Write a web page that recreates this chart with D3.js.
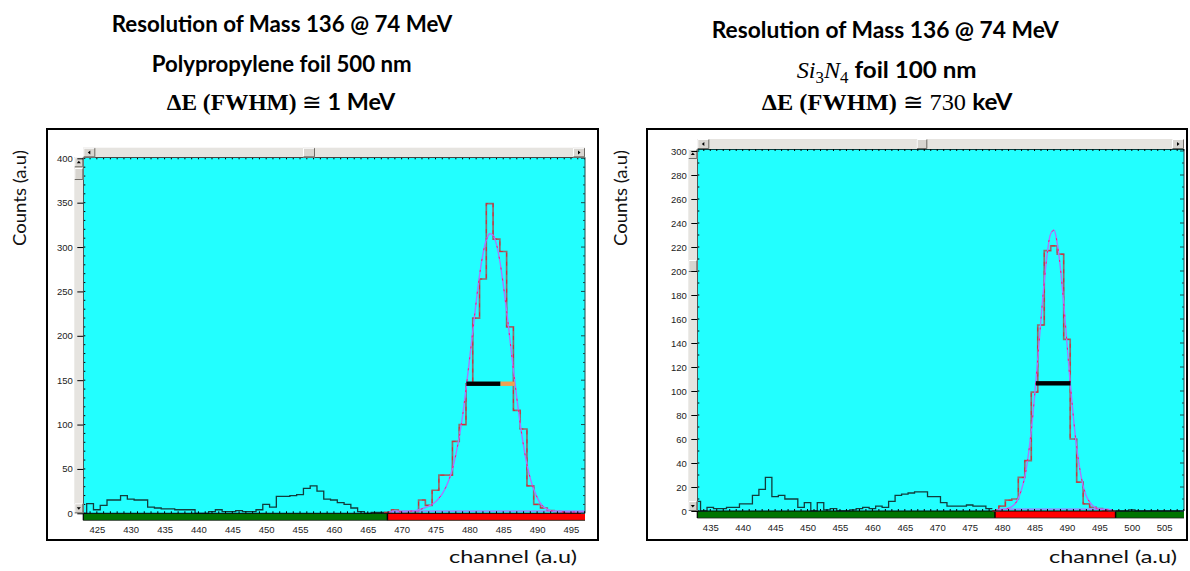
<!DOCTYPE html>
<html><head><meta charset="utf-8">
<script src="https://cdn.jsdelivr.net/npm/d3@7"></script>
<style>body{margin:0;background:#fff}svg{display:block}</style>
</head><body>
<svg id="chart" width="1190" height="571"></svg>
<script>
// ================= DATA =================
// Left panel: Polypropylene foil 500 nm
const leftXTicks = [425,430,435,440,445,450,455,460,465,470,475,480,485,490,495];
const leftYTicks = [0,50,100,150,200,250,300,350,400];
const leftBgStart = 423;
const leftBgCounts = [0,11,4,9,15,15,20,16,15,15,7,6,5,5,4,4,4,0,0,2,4,2,2,3,2,2,4,10,7,19,19,20,21,28,31,25,16,15,12,10,6,2,0,1,1];
const leftPeakStart = 468;
const leftPeakCounts = [1,4,2,2,2,15,9,26,43,43,81,100,146,220,264,349,309,295,210,116,95,31,10,6,3,2,1,1,1,0];
const leftFitCh  = [468,469,470,471,472,472.5,473,473.5,474,474.5,475,475.5,476,476.5,477,477.5,478,478.5,479,479.5,480,480.5,481,481.5,482,482.5,483,483.5,484,484.5,485,485.5,486,486.5,487,487.5,488,488.5,489,489.5,490,490.5,491,491.5,492,493,494,495,497];
const leftFitVal = [1.5,1.6,1.8,2.2,3,4,5,6.5,8,10,13,17,22,29,38,50,66,86,110,140,172,205,238,268,292,308,315,313,303,284,258,228,195,162,130,101,76,55,39,27,18,11,7,4.5,3,2,1.6,1.5,1.5];
const leftFitBase = [[468.5,2.5],[497,2.5]];
const leftFwhmBlack = [479.55,484.6];
const leftFwhmOrange = [484.6,486.7];
const leftFwhmLevel = 146;
const leftRegion = [467.9,497.1];

// Right panel: Si3N4 foil 100 nm
const rightXTicks = [435,440,445,450,455,460,465,470,475,480,485,490,495,500,505];
const rightYTicks = [0,20,40,60,80,100,120,140,160,180,200,220,240,260,280,300];
const rightBgStart = 433;
const rightBgCounts = [8,0,3,2,2,3,3,6,6,13,18,28,12,13,10,10,3,7,0,7,1,2,0,0,1,2,3,2,4,3,8,13,14,15,16,16,12,12,7,4,4,4,5,4,4,2];
const rightPeakStart = 479;
const rightPeakCounts = [0,4,9,10,28,42,99,155,217,221,214,143,60,24,6,3,2,1,0];
const rightTailStart = 498;
const rightTailCounts = [0,0,1,0,0,0,0,0,0,0,0];
const rightFitCh  = [479,480,481,481.5,482,482.5,483,483.5,484,484.5,485,485.5,486,486.5,487,487.5,488,488.5,489,489.5,490,490.5,491,491.5,492,492.5,493,493.5,494,494.5,495,496,497];
const rightFitVal = [1,1,2.3,3.6,6,10.5,18,28.5,45,67,95,127,160,191,216,231,234,223,202,173,140,107,78,53,34.5,21,12.3,7.5,4.3,2.5,1.6,1.1,1];
const rightFitBase = [[479.5,1.5],[496.5,1.5]];
const rightFwhmBlack = [485.2,490.55];
const rightFwhmLevel = 106.4;
const rightRegion = [478.9,497.5];

// ================= LAYOUT / STYLE =================
const svg = d3.select("#chart");
const SANS = "Lato, 'Open Sans', sans-serif";
const SERIF = "'Liberation Serif', 'DejaVu Serif', serif";
const TICKF = "'Liberation Sans', Arial, sans-serif";
const CYAN = "#22ffff", GREEN = "#007400", RED = "#ff0000";

const panels = [
  { id:"L", frame:[47,129,598,540], plot:{l:83.3,r:585,top:157.3,zero:513.3},
    xDomain:[423,497.07], yLab:[400,158.3], xTicks:leftXTicks, yTicks:leftYTicks, yMinor:10,
    labY:530, vs:{x:74.3, thumb:[168,180]}, hs:{h:9.6, thumb:[303,315]},
    series:[{start:leftBgStart,counts:leftBgCounts,kind:"bg"},{start:leftPeakStart,counts:leftPeakCounts,kind:"peak"}],
    fitCh:leftFitCh, fitVal:leftFitVal, fitBase:leftFitBase,
    bars:[{r:leftFwhmBlack,c:"#000"},{r:leftFwhmOrange,c:"#f0a050"}], level:leftFwhmLevel,
    region:leftRegion },
  { id:"R", frame:[647,129,1187,540], plot:{l:697.3,r:1184,top:149,zero:511},
    xDomain:[433,508.05], yLab:[300,151], xTicks:rightXTicks, yTicks:rightYTicks, yMinor:10,
    labY:528.3, vs:{x:688.3, thumb:[260,272]}, hs:{h:10, thumb:[916.7,927.3]},
    series:[{start:rightBgStart,counts:rightBgCounts,kind:"bg"},{start:rightPeakStart,counts:rightPeakCounts,kind:"peak"},{start:rightTailStart,counts:rightTailCounts,kind:"bg"}],
    fitCh:rightFitCh, fitVal:rightFitVal, fitBase:rightFitBase,
    bars:[{r:rightFwhmBlack,c:"#000"}], level:rightFwhmLevel,
    region:rightRegion }
];

function button(g, x, y, w, h){
  g.append("rect").attr("x",x).attr("y",y).attr("width",w).attr("height",h).attr("fill","#d8d5d0");
  g.append("path").attr("d",`M${x+0.5},${y+h-0.5}V${y+0.5}H${x+w-0.5}`).attr("stroke","#fff").attr("fill","none");
  g.append("path").attr("d",`M${x+0.5},${y+h-0.5}H${x+w-0.5}V${y+0.5}`).attr("stroke","#6e6b66").attr("fill","none");
}
function tri(g, cx, cy, dir){
  const s=2;
  let d;
  if(dir==="up") d=`M${cx-s},${cy+1}L${cx+s},${cy+1}L${cx},${cy-1.5}Z`;
  if(dir==="down") d=`M${cx-s},${cy-1}L${cx+s},${cy-1}L${cx},${cy+1.5}Z`;
  if(dir==="left") d=`M${cx+1},${cy-s}L${cx+1},${cy+s}L${cx-1.5},${cy}Z`;
  if(dir==="right") d=`M${cx-1},${cy-s}L${cx-1},${cy+s}L${cx+1.5},${cy}Z`;
  g.append("path").attr("d",d).attr("fill","#000");
}

panels.forEach(p => {
  const g = svg.append("g");
  const P = p.plot;
  const x = d3.scaleLinear().domain(p.xDomain).range([P.l, P.r]);
  const y = d3.scaleLinear().domain([0, p.yLab[0]]).range([P.zero, p.yLab[1]]);

  // outer frame
  const F = p.frame;
  g.append("rect").attr("x",F[0]).attr("y",F[1]).attr("width",F[2]-F[0]).attr("height",F[3]-F[1])
    .attr("fill","#fff").attr("stroke","#000").attr("stroke-width",2);

  // plot background
  g.append("rect").attr("x",P.l).attr("y",P.top).attr("width",P.r-P.l).attr("height",P.zero-P.top).attr("fill",CYAN);

  // bottom region bar
  const barH = 7;
  g.append("rect").attr("x",P.l).attr("y",P.zero).attr("width",P.r-P.l).attr("height",barH).attr("fill",GREEN);
  const rx0 = x(p.region[0]), rx1 = Math.min(x(p.region[1]), P.r);
  g.append("rect").attr("x",rx0).attr("y",P.zero).attr("width",rx1-rx0).attr("height",barH).attr("fill",RED);
  [rx0, rx1].forEach(v => { if (v < P.r-1) g.append("line").attr("x1",v).attr("x2",v).attr("y1",P.zero).attr("y2",P.zero+barH).attr("stroke","#000").attr("stroke-width",1.5); });
  g.append("line").attr("x1",P.l).attr("x2",P.r).attr("y1",P.zero+barH).attr("y2",P.zero+barH).attr("stroke","#222").attr("stroke-width",0.8);

  // clip
  const clipId = "clip"+p.id;
  svg.append("clipPath").attr("id",clipId).append("rect").attr("x",P.l).attr("y",P.top).attr("width",P.r-P.l).attr("height",P.zero-P.top+1);
  const cg = g.append("g").attr("clip-path",`url(#${clipId})`);

  const step = d3.line().x(d=>x(d[0])).y(d=>y(d[1])).curve(d3.curveStepAfter);
  p.series.forEach(s => {
    const pts = [[s.start-0.5, 0]];
    s.counts.forEach((c,i)=>pts.push([s.start+i-0.5, c]));
    pts.push([s.start+s.counts.length-0.5, s.counts[s.counts.length-1]]);
    if (s.kind==="bg") {
      cg.append("path").attr("d",step(pts)).attr("fill","none").attr("stroke","#123c3c").attr("stroke-width",1.3);
    } else {
      cg.append("path").attr("d",step(pts)).attr("fill","none").attr("stroke","#8e7070").attr("stroke-width",1.7);
      cg.append("path").attr("d",step(pts)).attr("fill","none").attr("stroke","#e02030").attr("stroke-width",0.9).attr("stroke-dasharray","4,5");
    }
  });

  // fit curve
  const fitPts = p.fitCh.map((c,i)=>[c,p.fitVal[i]]);
  const curve = d3.line().x(d=>x(d[0])).y(d=>y(d[1])).curve(d3.curveCatmullRom.alpha(0.5));
  cg.append("path").attr("d",d3.line().x(d=>x(d[0])).y(d=>y(d[1]))(p.fitBase)).attr("fill","none").attr("stroke","#b070ff").attr("stroke-width",1.2);
  cg.append("path").attr("d",curve(fitPts)).attr("fill","none").attr("stroke","#a878ff").attr("stroke-width",1.4);
  cg.append("path").attr("d",curve(fitPts)).attr("fill","none").attr("stroke","#ff1a70").attr("stroke-width",1).attr("stroke-dasharray","2,9");

  // FWHM bar
  p.bars.forEach(b => {
    g.append("rect").attr("x",x(b.r[0])).attr("y",y(p.level)-2.2).attr("width",x(b.r[1])-x(b.r[0])).attr("height",4.4).attr("fill",b.c);
  });

  // plot borders
  g.append("line").attr("x1",P.l).attr("x2",P.l).attr("y1",P.top).attr("y2",P.zero+barH).attr("stroke","#000").attr("stroke-width",1.2);
  g.append("line").attr("x1",P.l).attr("x2",P.r).attr("y1",P.top).attr("y2",P.top).attr("stroke","#000").attr("stroke-width",1.4);
  g.append("line").attr("x1",P.r).attr("x2",P.r).attr("y1",P.top).attr("y2",P.zero).attr("stroke","#1c4a4a").attr("stroke-width",1);
  g.append("line").attr("x1",P.l).attr("x2",P.r).attr("y1",P.zero).attr("y2",P.zero).attr("stroke","#000").attr("stroke-width",1);

  // channel ticks (top & bottom)
  const chans = d3.range(Math.ceil(p.xDomain[0]), Math.floor(p.xDomain[1])+1);
  g.append("g").selectAll("line").data(chans).join("line")
    .attr("x1",d=>x(d)).attr("x2",d=>x(d)).attr("y1",P.top).attr("y2",P.top+2).attr("stroke","#000").attr("stroke-width",1);
  g.append("g").selectAll("line").data(chans).join("line")
    .attr("x1",d=>x(d)).attr("x2",d=>x(d)).attr("y1",P.zero).attr("y2",P.zero-2).attr("stroke","#000").attr("stroke-width",1);

  // y minor ticks inside (left & right)
  const yMin = d3.range(0, p.yLab[0]+0.1, p.yMinor);
  g.append("g").selectAll("line").data(yMin).join("line")
    .attr("x1",P.l).attr("x2",P.l+2).attr("y1",d=>y(d)).attr("y2",d=>y(d)).attr("stroke","#000");
  g.append("g").selectAll("line").data(yMin).join("line")
    .attr("x1",P.r).attr("x2",d=>P.r-(p.yTicks.includes(d)?4:2)).attr("y1",d=>y(d)).attr("y2",d=>y(d)).attr("stroke","#1c4a4a");

  // vertical scrollbar
  const vs = p.vs;
  g.append("rect").attr("x",vs.x).attr("y",P.top).attr("width",P.l-vs.x).attr("height",P.zero-P.top).attr("fill","#e6e4e0");
  button(g, vs.x, P.top, P.l-vs.x, 10); tri(g, (vs.x+P.l)/2, P.top+5, "up");
  button(g, vs.x, P.zero-10, P.l-vs.x, 10); tri(g, (vs.x+P.l)/2, P.zero-5, "down");
  button(g, vs.x, vs.thumb[0], P.l-vs.x, vs.thumb[1]-vs.thumb[0]);

  // horizontal scrollbar
  const hs = p.hs, hy = P.top-hs.h;
  g.append("rect").attr("x",P.l).attr("y",hy).attr("width",P.r-P.l).attr("height",hs.h).attr("fill","#e6e4e0");
  button(g, P.l, hy, 12, hs.h); tri(g, P.l+6, hy+hs.h/2, "left");
  button(g, P.r-12, hy, 12, hs.h); tri(g, P.r-6, hy+hs.h/2, "right");
  button(g, hs.thumb[0], hy, hs.thumb[1]-hs.thumb[0], hs.h);

  // y axis (major ticks + labels) with d3 axis
  const yAxis = d3.axisLeft(y).tickValues(p.yTicks).tickSize(6).tickPadding(2).tickFormat(d3.format("d"));
  const ya = g.append("g").attr("transform",`translate(${P.l},0)`).call(yAxis);
  ya.select(".domain").remove();
  ya.selectAll(".tick line").attr("stroke","#000");
  ya.selectAll(".tick text").attr("x", vs.x - P.l - 1.5).attr("font-family",TICKF).attr("font-size",9.5).attr("fill","#222");

  // x axis labels with d3 axis
  const xAxis = d3.axisBottom(x).tickValues(p.xTicks).tickSize(0).tickFormat(d3.format("d"));
  const xa = g.append("g").attr("transform",`translate(0,${p.labY-4})`).call(xAxis);
  xa.select(".domain").remove();
  xa.selectAll(".tick text").attr("y",0).attr("dy","0.7em").attr("font-family",TICKF).attr("font-size",9.5).attr("fill","#222");
});

// ================= TEXT =================
function fitLine(parts, left, right, baseline, size){
  const t = svg.append("text").attr("y", baseline).attr("x",0).attr("font-size", size).attr("fill","#000");
  parts.forEach(pt => {
    const ts = t.append("tspan").text(pt.t).attr("font-family", pt.f || SANS).attr("font-weight", pt.w || "bold");
    if (pt.i) ts.attr("font-style","italic");
    if (pt.fs) ts.attr("font-size", pt.fs);
    if (pt.dy) ts.attr("dy", pt.dy);
  });
  const bb = t.node().getBBox();
  const sx = (right-left)/bb.width;
  t.attr("transform", `translate(${left},0) scale(${sx},1) translate(${-bb.x},0)`);
}

fitLine([{t:"Resolution of Mass 136 @ 74 MeV"}], 111.7, 453.3, 31.7, 23);
fitLine([{t:"Polypropylene foil 500 nm"}], 151.7, 411.7, 71.7, 23);
fitLine([{t:"ΔE (FWHM)", f:SERIF},{t:" ≅ ", f:SERIF, w:"normal"},{t:"1 MeV"}], 166.7, 396.7, 110, 23);

fitLine([{t:"Resolution of Mass 136 @ 74 MeV"}], 711.7, 1060, 38.3, 23);
fitLine([{t:"Si", f:SERIF, w:"normal", i:true},{t:"3", f:SERIF, w:"normal", fs:16, dy:5},{t:"N", f:SERIF, w:"normal", i:true, dy:-5},{t:"4", f:SERIF, w:"normal", fs:16, dy:5},{t:"  foil 100 nm", dy:-5}], 796.7, 976.7, 78.3, 23);
fitLine([{t:"ΔE (FWHM)", f:SERIF},{t:" ≅ 730 ", f:SERIF, w:"normal"},{t:"keV"}], 761.7, 1013.3, 110, 23);

// axis titles
[[20,"L"],[621,"R"]].forEach(([cx]) => {
  svg.append("text").attr("transform",`translate(${cx+6},198) rotate(-90)`).attr("text-anchor","middle")
    .attr("font-family",SANS).attr("font-size",18).attr("textLength",96).attr("lengthAdjust","spacingAndGlyphs")
    .attr("fill","#111").text("Counts (a.u)");
});
[449,1049].forEach(lx => {
  svg.append("text").attr("x",lx).attr("y",563).attr("font-family",SANS).attr("font-size",18)
    .attr("textLength",128).attr("lengthAdjust","spacingAndGlyphs").attr("fill","#111").text("channel (a.u)");
});
</script>
</body></html>
